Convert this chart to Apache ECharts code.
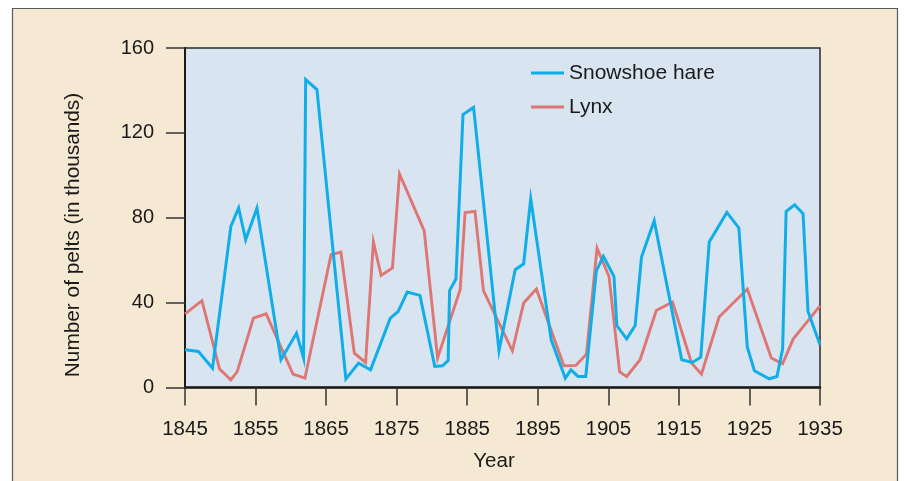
<!DOCTYPE html>
<html>
<head>
<meta charset="utf-8">
<script src="https://cdn.jsdelivr.net/npm/echarts@6/dist/echarts.min.js"></script>
<style>
html,body{margin:0;padding:0;background:#ffffff;overflow:hidden;}
#chart{width:905px;height:481px;}
</style>
</head>
<body>
<div id="chart"></div>
<script>
// Data (year, thousands of pelts)
var hareYears = [1845, 1846.9, 1848.9, 1851.5, 1852.6, 1853.6, 1855.2, 1858.6, 1860.8, 1861.8, 1862.1, 1863.7, 1867.8, 1869.6, 1871.3, 1874.1, 1875.2, 1876.5, 1878.3, 1880.4, 1881.5, 1882.3, 1882.5, 1883.4, 1884.4, 1885.9, 1889.5, 1891.8, 1893.0, 1894.0, 1896.9, 1898.9, 1899.7, 1900.7, 1901.8, 1903.3, 1904.3, 1905.8, 1906.2, 1907.6, 1908.8, 1909.7, 1911.5, 1915.4, 1916.9, 1918.1, 1919.3, 1921.8, 1923.5, 1924.7, 1925.7, 1927.8, 1928.9, 1929.7, 1930.2, 1931.4, 1932.6, 1933.3, 1935];
var hareValues = [17.8, 17.0, 9.1, 75.9, 84.6, 69.6, 84.6, 13.1, 25.6, 13.9, 145.1, 140.4, 4.0, 11.5, 8.3, 32.7, 35.8, 45.0, 43.4, 9.9, 10.2, 12.7, 45.7, 51.1, 128.6, 132.0, 17.3, 55.5, 58.3, 89.0, 22.5, 4.4, 8.3, 5.2, 5.2, 55.0, 61.8, 52.3, 29.2, 22.9, 29.2, 61.5, 78.6, 13.1, 11.8, 14.3, 68.6, 82.5, 75.2, 19.0, 7.9, 4.1, 5.2, 18.1, 83.0, 86.1, 81.9, 35.8, 20.1];
var lynxYears = [1845, 1847.4, 1849.9, 1851.5, 1852.4, 1854.7, 1856.5, 1860.3, 1862.0, 1865.7, 1867.1, 1869.0, 1870.6, 1871.7, 1872.8, 1874.4, 1875.4, 1878.9, 1880.8, 1884.0, 1884.7, 1886.1, 1887.3, 1891.4, 1893.0, 1894.8, 1898.7, 1900.4, 1901.9, 1903.4, 1905.1, 1906.6, 1907.6, 1909.5, 1911.8, 1914.1, 1916.8, 1918.2, 1920.7, 1924.7, 1928.1, 1929.7, 1931.2, 1935];
var lynxValues = [34.7, 40.9, 8.7, 3.6, 7.5, 32.7, 34.7, 6.3, 4.4, 62.6, 63.8, 16.2, 11.8, 68.6, 52.8, 56.3, 100.6, 73.9, 13.9, 46.1, 82.5, 83.0, 45.7, 17.3, 39.8, 46.4, 10.2, 10.4, 15.7, 65.7, 52.3, 7.3, 5.2, 13.1, 36.3, 40.3, 11.5, 6.3, 33.2, 46.4, 13.9, 11.2, 22.8, 38.5];
var seriesNames = ['Snowshoe hare', 'Lynx'];
var startYear = 1845;
var endYear = 1935;
var yearStep = 10;
var yTicks = [0, 40, 80, 120, 160];

function pairs(xs, ys) {
  return xs.map(function (x, i) { return [x - startYear, ys[i]]; });
}

var chart = echarts.init(document.getElementById('chart'), null, {renderer: 'canvas', width: 905, height: 481});
var font = '"Liberation Sans", Arial, Helvetica, sans-serif';
chart.setOption({
  backgroundColor: '#ffffff',
  animation: false,
  graphic: [
    {type: 'rect', z: -10, shape: {x: 12.5, y: 8.5, width: 885, height: 490},
     style: {fill: '#F6E9D4', stroke: '#5a5a5a', lineWidth: 1.2}},
    {type: 'text', z: 10, x: 73, y: 235, rotation: Math.PI / 2,
     style: {text: 'Number of pelts (in thousands)', font: '20.8px ' + font, fill: '#1a1a1a',
             align: 'center', verticalAlign: 'middle'}}
  ],
  grid: {left: 185, width: 635, top: 48, height: 339.5, show: true,
         backgroundColor: '#D9E4F1', borderColor: '#2a2a2a', borderWidth: 1.5},
  legend: {
    orient: 'vertical', left: 531, top: 62.5, padding: 0, itemWidth: 33, itemHeight: 3,
    itemGap: 13, icon: 'rect',
    textStyle: {fontSize: 21, fontFamily: font, color: '#1a1a1a'},
    data: seriesNames
  },
  xAxis: {
    type: 'value', min: 0, max: endYear - startYear, interval: yearStep,
    splitLine: {show: false},
    axisLine: {lineStyle: {color: '#1a1a1a', width: 2.5}},
    axisTick: {length: 18, lineStyle: {color: '#333', width: 1.5}},
    axisLabel: {margin: 31, fontSize: 20.5, fontFamily: font, color: '#1a1a1a',
      formatter: function (v) { return String(v + startYear); }},
    name: 'Year', nameLocation: 'middle', nameGap: 63,
    nameTextStyle: {fontSize: 20.5, fontFamily: font, color: '#1a1a1a', padding: [0, 17, 0, 0]}
  },
  yAxis: {
    type: 'value', min: yTicks[0], max: yTicks[yTicks.length - 1], interval: yTicks[1] - yTicks[0],
    splitLine: {show: false},
    axisLine: {show: true, lineStyle: {color: '#1a1a1a', width: 2}},
    axisTick: {show: true, length: 19, lineStyle: {color: '#333', width: 1.5}},
    axisLabel: {margin: 31, fontSize: 20, fontFamily: font, color: '#1a1a1a'}
  },
  series: [
    {name: seriesNames[0], type: 'line', data: pairs(hareYears, hareValues),
     symbol: 'none', color: '#0FAEE8',
     lineStyle: {width: 3, color: '#0FAEE8', join: 'miter'}, z: 3},
    {name: seriesNames[1], type: 'line', data: pairs(lynxYears, lynxValues),
     symbol: 'none', color: '#DE7673',
     lineStyle: {width: 2.9, color: '#DE7673', join: 'miter'}, z: 2}
  ]
});
</script>
</body>
</html>
